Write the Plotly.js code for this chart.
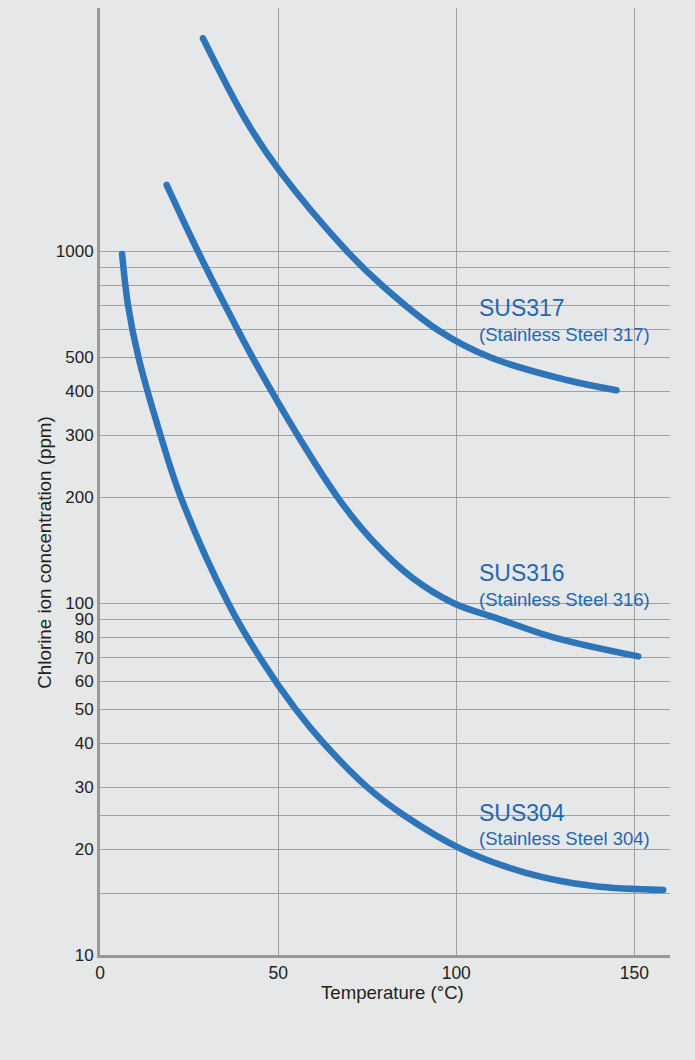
<!DOCTYPE html>
<html>
<head>
<meta charset="utf-8">
<script src="https://cdn.plot.ly/plotly-3.0.1.min.js"></script>
<style>
  html, body { margin: 0; padding: 0; background: #e6e7e9; }
  #chart { width: 695px; height: 1060px; }
  .scatterlayer .js-line { stroke-linecap: round; stroke-linejoin: round; }
</style>
</head>
<body>
<div id="chart"></div>
<script>
// ---- Data ----
const sus304Temp = [6.2, 7.9, 10.8, 17.0, 22.7, 36.0, 44.9, 54.9, 62.8, 75.0, 85.2, 101.5, 119.8, 138.5, 158.1];
const sus304Cl   = [984, 700, 500, 300, 200, 100, 70, 50, 40, 30, 25, 20, 17.1, 15.7, 15.3];

const sus316Temp = [18.7, 27.5, 35.2, 42.8, 55.5, 66.7, 76.4, 87.7, 99.3, 112.3, 127.3, 151.1];
const sus316Cl   = [1546, 1000, 700, 500, 300, 200, 151, 118, 100, 90, 80, 70.6];

const sus317Temp = [28.9, 40.9, 50.2, 69.4, 79.2, 94.6, 109.5, 131.0, 145.0];
const sus317Cl   = [4036, 2364, 1706, 1000, 800, 600, 500, 431, 403];

const seriesNames = ['SUS304', 'SUS316', 'SUS317'];
const seriesSubs  = ['(Stainless Steel 304)', '(Stainless Steel 316)', '(Stainless Steel 317)'];

const xTickVals = [0, 50, 100, 150];
const yTickVals = [10, 15, 20, 25, 30, 40, 50, 60, 70, 80, 90, 100, 200, 300, 400, 500, 600, 700, 800, 900, 1000];
const yTickText = ['10', '', '20', '', '30', '40', '50', '60', '70', '80', '90', '100', '200', '300', '400', '500', '', '', '', '', '1000'];

const xTitle = 'Temperature (°C)';
const yTitle = 'Chlorine ion concentration (ppm)';

// ---- Styling ----
const lineColor = '#2e74b9';
const textBlue = '#1f68b1';
const bg = '#e6e7e9';
const gridColor = '#9fa0a2';
const axisColor = '#97989a';
const textDark = '#231f20';
const fontFam = 'Liberation Sans, Arial, sans-serif';

function mk(x, y) {
  return {
    x: x, y: y, type: 'scatter', mode: 'lines',
    line: { color: lineColor, width: 6.5, shape: 'spline', smoothing: 1 },
    hoverinfo: 'skip', showlegend: false
  };
}

const traces = [mk(sus304Temp, sus304Cl), mk(sus316Temp, sus316Cl), mk(sus317Temp, sus317Cl)];

// label positions (paper coordinates)
const labelX = 0.662;
const mainY = [0.1496, 0.4030, 0.6829];
const subY  = [0.1225, 0.3758, 0.6555];

const annotations = [];
for (let i = 0; i < 3; i++) {
  annotations.push({
    xref: 'paper', yref: 'paper', x: labelX, y: mainY[i],
    xanchor: 'left', yanchor: 'middle', showarrow: false,
    text: seriesNames[i], font: { family: fontFam, size: 23, color: textBlue }
  });
  annotations.push({
    xref: 'paper', yref: 'paper', x: labelX, y: subY[i],
    xanchor: 'left', yanchor: 'middle', showarrow: false,
    text: seriesSubs[i], font: { family: fontFam, size: 18.5, color: textBlue }
  });
}
annotations.push({
  xref: 'paper', yref: 'paper', x: 0.5136, y: -0.0396,
  xanchor: 'center', yanchor: 'middle', showarrow: false,
  text: xTitle, font: { family: fontFam, size: 18.6, color: textDark }
});
annotations.push({
  xref: 'paper', yref: 'paper', x: -0.0973, y: 0.4243,
  xanchor: 'center', yanchor: 'middle', showarrow: false, textangle: -90,
  text: yTitle, font: { family: fontFam, size: 18.8, color: textDark }
});

const layout = {
  width: 695, height: 1060,
  paper_bgcolor: bg, plot_bgcolor: bg,
  margin: { l: 99.5, r: 25, t: 8, b: 104.5 },
  showlegend: false,
  font: { family: fontFam, size: 17, color: textDark },
  xaxis: {
    range: [0, 160],
    tickmode: 'array', tickvals: xTickVals,
    showgrid: true, gridcolor: gridColor, gridwidth: 1,
    zeroline: false,
    showline: true, linecolor: axisColor, linewidth: 3,
    ticks: '', tickfont: { family: fontFam, size: 17.5, color: textDark },
    fixedrange: true
  },
  yaxis: {
    type: 'log',
    range: [1, 3.692],
    tickmode: 'array', tickvals: yTickVals, ticktext: yTickText,
    showgrid: true, gridcolor: gridColor, gridwidth: 1,
    zeroline: false,
    showline: true, linecolor: axisColor, linewidth: 3,
    ticks: '', tickfont: { family: fontFam, size: 17, color: textDark },
    fixedrange: true
  },
  annotations: annotations
};

Plotly.newPlot('chart', traces, layout, { displayModeBar: false, staticPlot: true });
</script>
</body>
</html>
